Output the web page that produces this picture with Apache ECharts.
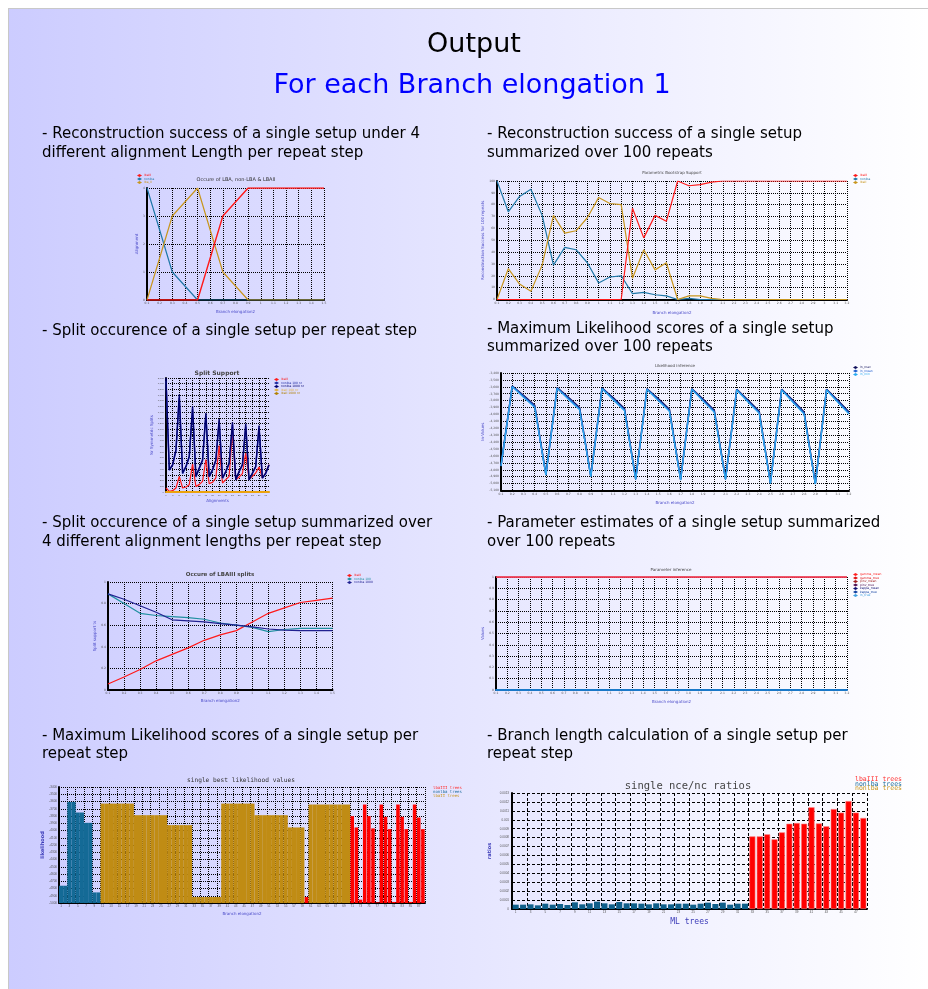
<!DOCTYPE html>
<html>
<head>
<meta charset="utf-8">
<title>Output</title>
<script src="https://cdn.jsdelivr.net/npm/echarts@6/dist/echarts.min.js"></script>
<style>
  html, body { margin: 0; padding: 0; background: #fff; }
  #page { width: 928px; height: 989px; }
</style>
</head>
<body>
<div id="page"></div>
<script>
// ---------- chart 1: Occure of LBA, non-LBA & LBAII ----------
const elong15 = ['0.1','0.2','0.3','0.4','0.5','0.6','0.7','0.8','0.9','1','1.1','1.2','1.3','1.4','1.5'];
const occLba3   = [0,null,0,null,0,null,3,null,4,null,4,null,4,null,4];
const occNonLba = [4,null,1,null,0,null,0,null,0,null,0,null,0,null,0];
const occLba2   = [0,null,3,null,4,null,1,null,0,null,0,null,0,null,0];

// ---------- chart 2: Parametric Bootstrap Support ----------
const elong32 = ['0.1','0.2','0.3','0.4','0.5','0.6','0.7','0.8','0.9','1','1.1','1.2','1.3','1.4','1.5','1.6',
                 '1.7','1.8','1.9','2','2.1','2.2','2.3','2.4','2.5','2.6','2.7','2.8','2.9','3','3.1','3.2'];
const bootLba3   = [0,0,0,0,0,0,0,0,0,0,0,0,77,52,71,66,100,96,97,99,100,100,100,100,100,100,100,100,100,100,100,100];
const bootNonLba = [100,74,87,93,71,29,44,42,31,14,19,20,5,6,4,3,0,1,0,0,0,0,0,0,0,0,0,0,0,0,0,0];
const bootLba2   = [0,26,13,7,29,71,56,58,69,86,81,80,18,42,25,31,0,3,3,1,0,0,0,0,0,0,0,0,0,0,0,0];

// ---------- chart 3: Split Support ----------
const alignLabels = ['1','2','3','4','5','6','7','8','9','10','11','12','13','14','15','16',
                     '17','18','19','20','21','22','23','24','25','26','27','28','29','30','31','32'];
const splitLba3     = [70,12,23,70,275,70,88,129,491,99,129,187,567,146,170,246,813,158,216,275,1064,216,263,322,684,216,275,333,440,246,333,480];
const splitNon100   = [2000,392,480,743,1708,333,450,626,1503,275,421,567,1386,275,392,567,1281,246,363,509,1222,216,363,480,1199,216,333,450,1164,246,333,480];
const splitNon1000  = [1950,380,470,720,1650,320,440,610,1450,265,410,550,1340,265,380,550,1240,240,350,495,1180,210,350,470,1150,210,320,440,1120,240,320,470];
const splitLba2_100  = [0,0,0,0,0,0,0,0,0,0,0,0,0,0,0,0,0,0,0,0,0,0,0,0,0,0,0,0,0,0,0,0];
const splitLba2_1000 = [0,0,0,0,0,0,0,0,0,0,0,0,0,0,0,0,0,0,0,0,0,0,0,0,0,0,0,0,0,0,0,0];

// ---------- chart 4: Likelihood inference ----------
const lnUpper = [-4740,-3590,-3722,-3868,-4870,-3612,-3752,-3902,-4892,-3618,-3760,-3915,-4930,-3628,-3770,-3925,-4940,-3628,-3778,-3940,-4930,-3636,-3790,-3955,-4990,-3636,-3795,-3965,-5000,-3636,-3795,-3965];
const lnMid   = [-4743,-3593,-3738,-3883,-4873,-3617,-3767,-3917,-4897,-3622,-3776,-3931,-4936,-3632,-3786,-3941,-4946,-3632,-3794,-3955,-4936,-3641,-3805,-3970,-4994,-3641,-3810,-3980,-5004,-3641,-3810,-3980];
const lnLower = [-4748,-3598,-3752,-3898,-4878,-3622,-3782,-3932,-4902,-3627,-3790,-3946,-4942,-3637,-3800,-3956,-4952,-3637,-3808,-3970,-4942,-3646,-3820,-3985,-5000,-3646,-3825,-3995,-5010,-3646,-3825,-3995];

// ---------- chart 5: Occure of LBAIII splits ----------
const lba3Split    = [0.055,0.12,0.19,0.27,0.33,0.39,0.46,0.51,0.55,0.63,0.71,0.76,0.81,0.83,0.85];
const nonSplitA    = [0.89,0.80,0.71,0.69,0.68,0.67,0.655,0.62,0.60,0.58,0.54,0.56,0.57,0.57,0.57];
const nonSplitB    = [0.89,0.84,0.78,0.72,0.65,0.64,0.63,0.615,0.60,0.585,0.565,0.555,0.55,0.55,0.55];

// ---------- chart 6: Parameter inference ----------
const parTop1 = [1,1,1,1,1,1,1,1,1,1,1,1,1,1,1,1,1,1,1,1,1,1,1,1,1,1,1,1,1,1,1,1];
const parTop2 = [1,1,1,1,1,1,1,1,1,1,1,1,1,1,1,1,1,1,1,1,1,1,1,1,1,1,1,1,1,1,1,1];
const parLow1 = [0,0,0,0,0,0,0,0,0,0,0,0,0,0,0,0,0,0,0,0,0,0,0,0,0,0,0,0,0,0,0,0];
const parLow2 = [0,0,0,0,0,0,0,0,0,0,0,0,0,0,0,0,0,0,0,0,0,0,0,0,0,0,0,0,0,0,0,0];
const parLow3 = [0,0,0,0,0,0,0,0,0,0,0,0,0,0,0,0,0,0,0,0,0,0,0,0,0,0,0,0,0,0,0,0];
const parLow4 = [0,0,0,0,0,0,0,0,0,0,0,0,0,0,0,0,0,0,0,0,0,0,0,0,0,0,0,0,0,0,0,0];
const parLow5 = [0,0,0,0,0,0,0,0,0,0,0,0,0,0,0,0,0,0,0,0,0,0,0,0,0,0,0,0,0,0,0,0];

// ---------- chart 7: single best likelihood values (one slot per tree) ----------
const treeSlots = ['1','2','3','4','5','6','7','8','9','10','11','12','13','14','15','16','17','18','19','20','21','22',
                   '23','24','25','26','27','28','29','30','31','32','33','34','35','36','37','38','39','40','41','42','43','44',
                   '45','46','47','48','49','50','51','52','53','54','55','56','57','58','59','60','61','62','63','64','65','66',
                   '67','68','69','70','71','72','73','74','75','76','77','78','79','80','81','82','83','84','85','86','87','88'];
const llNonLba = [-4762,-4762,-3606,-3606,-3752,-3752,-3894,-3894,-4854,-4854,
                  null,null,null,null,null,null,null,null,null,null,null,null,null,null,null,null,null,null,null,null,
                  null,null,null,null,null,null,null,null,null,null,null,null,null,null,null,null,null,null,null,null,
                  null,null,null,null,null,null,null,null,null,null,null,null,null,null,null,null,null,null,null,null,
                  null,null,null,null,null,null,null,null,null,null,null,null,null,null,null,null,null,null];
const llLba2   = [null,null,null,null,null,null,null,null,null,null,
                  -3629,-3629,-3629,-3629,-3629,-3629,-3629,-3629,
                  -3789,-3789,-3789,-3789,-3789,-3789,-3789,-3789,
                  -3926,-3926,-3926,-3926,-3926,-3926,
                  -4918,-4918,-4918,-4918,-4918,-4918,-4918,
                  -3629,-3629,-3629,-3629,-3629,-3629,-3629,-3629,
                  -3789,-3789,-3789,-3789,-3789,-3789,-3789,-3789,
                  -3958,-3958,-3958,-3958,
                  null,
                  -3642,-3642,-3642,-3642,-3642,-3642,-3642,-3642,-3642,-3642,
                  null,null,null,null,null,null,null,null,null,null,null,null,null,null,null,null,null,null];
const llLba3   = [null,null,null,null,null,null,null,null,null,null,null,null,null,null,null,null,null,null,null,null,
                  null,null,null,null,null,null,null,null,null,null,null,null,null,null,null,null,null,null,null,null,
                  null,null,null,null,null,null,null,null,null,null,null,null,null,null,null,null,null,null,null,
                  -4918,
                  null,null,null,null,null,null,null,null,null,null,
                  -3802,-3958,-4954,-3642,-3802,-3971,-4991,-3642,-3811,-3981,-4985,-3642,-3811,-3981,-4985,-3642,-3821,-3981];
const llBase = -5000;

// ---------- chart 8: single nce/nc ratios ----------
const mlTrees = ['1','2','3','4','5','6','7','8','9','10','11','12','13','14','15','16','17','18','19','20','21','22','23','24',
                 '25','26','27','28','29','30','31','32','33','34','35','36','37','38','39','40','41','42','43','44','45','46','47','48'];
const ratioNonLba = [0.0000486,0.0000486,0.0000523,0.0000411,0.0000598,0.0000486,0.0000560,0.0000448,0.0000747,0.0000523,0.0000635,0.0000822,
                     0.0000635,0.0000523,0.0000785,0.0000635,0.0000635,0.0000598,0.0000523,0.0000635,0.0000523,0.0000523,0.0000598,0.0000598,
                     0.0000486,0.0000598,0.0000710,0.0000560,0.0000710,0.0000486,0.0000598,0.0000598,
                     null,null,null,null,null,null,null,null,null,null,null,null,null,null,null,null];
const ratioLba3 = [null,null,null,null,null,null,null,null,null,null,null,null,null,null,null,null,
                   null,null,null,null,null,null,null,null,null,null,null,null,null,null,null,null,
                   0.000814,0.000814,0.000837,0.000781,0.000859,0.000956,0.000964,0.000956,0.00114,0.000959,0.000927,0.00112,0.00108,0.00121,0.00108,0.00102];

// ---------- page text ----------
const pageTitle = 'Output';
const pageSubtitle = 'For each Branch elongation 1';

const FONT = "'DejaVu Sans', sans-serif";
const MONO = "'DejaVu Sans Mono', monospace";
const BLACK = '#000';
const DOT = [1, 1];

const grids = [
  { left: 147, top: 188, width: 177, height: 112 },
  { left: 497, top: 181, width: 350, height: 118.5 },
  { left: 166, top: 378, width: 103, height: 114 },
  { left: 501, top: 373, width: 348, height: 117.5 },
  { left: 108, top: 582, width: 224.5, height: 108 },
  { left: 496, top: 577, width: 351, height: 113 },
  { left: 59,  top: 787, width: 366, height: 116 },
  { left: 512, top: 793, width: 355, height: 116 }
];

function catAxis(gridIndex, data, name, nameGap, extra) {
  return Object.assign({
    type: 'category', gridIndex, data, boundaryGap: false,
    name, nameLocation: 'middle', nameGap,
    nameTextStyle: { fontSize: 4, color: '#4a4ac8', fontFamily: FONT },
    axisLine: { show: true, lineStyle: { color: BLACK, width: 2 } },
    axisTick: { show: false },
    axisLabel: { fontSize: 3, color: '#555', margin: 2, interval: 0, fontFamily: FONT },
    splitLine: { show: true, interval: 0, lineStyle: { color: BLACK, type: DOT, width: 1 } }
  }, extra || {});
}

function valAxis(gridIndex, min, max, interval, name, nameGap, extra) {
  return Object.assign({
    type: 'value', gridIndex, min, max, interval,
    name, nameLocation: 'middle', nameGap, nameRotate: 90,
    nameTextStyle: { fontSize: 4, color: '#4a4ac8', fontFamily: FONT },
    axisLine: { show: true, lineStyle: { color: BLACK, width: 2 } },
    axisTick: { show: false },
    axisLabel: { fontSize: 3, color: '#555', margin: 2, fontFamily: FONT },
    splitLine: { show: true, lineStyle: { color: BLACK, type: DOT, width: 1 } }
  }, extra || {});
}

function line(name, idx, data, color, width, z) {
  return {
    type: 'line', name, xAxisIndex: idx, yAxisIndex: idx, data,
    showSymbol: false, symbol: 'none', connectNulls: true,
    lineStyle: { color, width: width || 1.2 }, itemStyle: { color },
    z: z || 2, animation: false, silent: true
  };
}

function legendBox(left, top, items, fontSize, extra) {
  return Object.assign({
    left, top, orient: 'vertical', itemGap: 0.5, itemWidth: 5, itemHeight: 3,
    padding: 0, icon: 'diamond', selectedMode: false,
    textStyle: { fontSize, fontFamily: FONT, padding: [0, 0, 0, -3] },
    data: items.map(function (it) {
      return { name: it[0], itemStyle: { color: it[1] }, textStyle: { color: it[1], fontSize, fontFamily: FONT } };
    })
  }, extra || {});
}

// legend made of coloured names only
function textLegend(left, top, items, fontSize, gap) {
  return {
    left, top, orient: 'vertical', itemGap: gap, itemWidth: 0, itemHeight: 0,
    padding: 0, icon: 'rect', selectedMode: false,
    textStyle: { fontSize, fontFamily: MONO, padding: 0 },
    data: items.map(function (it) {
      return { name: it[0], itemStyle: { color: 'rgba(0,0,0,0)' },
               textStyle: { color: it[1], fontSize, fontFamily: MONO, padding: 0 } };
    })
  };
}

function heading(x, y, text) {
  return { type: 'text', x, y, silent: true,
    style: { text, fill: '#000', font: '15px ' + FONT, textAlign: 'left', align: 'left', textVerticalAlign: 'middle', verticalAlign: 'middle' } };
}
function centerText(x, y, text, font, fill) {
  return { type: 'text', x, y, silent: true,
    style: { text, fill, font, textAlign: 'center', align: 'center', textVerticalAlign: 'middle', verticalAlign: 'middle' } };
}

const RED = '#ff1a1a', BLUE = '#1f78a8', GOLD = '#c8961e';

const chart = echarts.init(document.getElementById('page'), null, { renderer: 'canvas', width: 928, height: 989 });

const option = {
  animation: false,
  backgroundColor: { type: 'linear', x: 8, y: 0, x2: 928, y2: 0, global: true,
    colorStops: [{ offset: 0, color: '#ccccff' }, { offset: 1, color: '#ffffff' }] },
  graphic: [
    { type: 'rect', shape: { x: 0, y: 0, width: 928, height: 8 }, style: { fill: '#fff' }, silent: true },
    { type: 'rect', shape: { x: 0, y: 0, width: 8, height: 989 }, style: { fill: '#fff' }, silent: true },
    { type: 'line', shape: { x1: 8, y1: 8.5, x2: 928, y2: 8.5 }, style: { stroke: '#c8c8c8', lineWidth: 1 }, silent: true },
    { type: 'line', shape: { x1: 8.5, y1: 8, x2: 8.5, y2: 989 }, style: { stroke: '#c8c8c8', lineWidth: 1 }, silent: true },
    centerText(474, 45, pageTitle, '27px ' + FONT, '#000'),
    centerText(472, 86, pageSubtitle, '27px ' + FONT, '#0000ff'),
    heading(42, 134, '- Reconstruction success of a single setup under 4'),
    heading(42, 153, 'different alignment Length per repeat step'),
    heading(487, 134, '- Reconstruction success of a single setup'),
    heading(487, 153, 'summarized over 100 repeats'),
    heading(42, 331, '- Split occurence of a single setup per repeat step'),
    heading(487, 329, '- Maximum Likelihood scores of a single setup'),
    heading(487, 347, 'summarized over 100 repeats'),
    heading(42, 523, '- Split occurence of a single setup summarized over'),
    heading(42, 542, '4 different alignment lengths per repeat step'),
    heading(487, 523, '- Parameter estimates of a single setup summarized'),
    heading(487, 542, 'over 100 repeats'),
    heading(42, 736, '- Maximum Likelihood scores of a single setup per'),
    heading(42, 754, 'repeat step'),
    heading(487, 736, '- Branch length calculation of a single setup per'),
    heading(487, 754, 'repeat step'),
    centerText(236, 180, 'Occure of LBA, non-LBA & LBAII', '5px ' + FONT, '#333'),
    centerText(672, 173, 'Parametric Bootstrap Support', '4px ' + FONT, '#444'),
    centerText(217, 373, 'Split Support', 'bold 6px ' + FONT, '#444'),
    centerText(675, 366, 'Likelihood inference', '4px ' + FONT, '#444'),
    centerText(220, 575, 'Occure of LBAIII splits', 'bold 5.5px ' + FONT, '#444'),
    centerText(671, 570, 'Parameter inference', '4px ' + FONT, '#444'),
    centerText(241, 780, 'single best likelihood values', '6.2px ' + MONO, '#333'),
    centerText(688, 786, 'single nce/nc ratios', '10.5px ' + MONO, '#444')
  ],
  grid: grids.map(function (g) { return Object.assign({ containLabel: false, show: false }, g); }),
  legend: [
    legendBox(137, 174, [['lbaIII', RED], ['nonlba', BLUE], ['lba_II', GOLD]], 3),
    legendBox(853, 174, [['lbaIII ', RED], ['nonlba ', BLUE], ['lbaII', GOLD]], 3),
    legendBox(274, 378, [['lbaIII  ', RED], ['nonlba 100 nr', '#1e2aa0'], ['nonlba 1000 nr', '#00006e'],
                         ['lbaII 100 nr', '#e0b040'], ['lbaII 1000 nr', '#b08000']], 3),
    legendBox(853, 366, [['ln_max', '#10105a'], ['ln_mean', '#1f5fd0'], ['ln_min', '#2aaaf0']], 3),
    legendBox(347, 574, [['lbaIII   ', RED], ['nonlba 100', '#2090a0'], ['nonlba 1000', '#202090']], 3),
    legendBox(853, 573, [['gamma_mean', '#ff2020'], ['gamma_true', '#e01010'], ['pinv_mean', '#a02020'],
                         ['pinv_true', '#501050'], ['kappa_mean', '#101070'], ['kappa_true', '#1040a0'], ['ln_true', '#40a0e0']], 3),
    textLegend(428, 786, [['lbaIII trees', '#ff3030'], ['nonlba trees', '#1a6a9a'], ['lbaII trees', GOLD]], 4, 0),
    textLegend(849, 776, [['lbaIII trees ', '#ff3030'], ['nonlba trees ', '#1a6a9a'], ['nonlba trees  ', GOLD]], 6.5, -2.5)
  ],
  xAxis: [
    catAxis(0, elong15, 'Branch elongation2', 10),
    catAxis(1, elong32, 'Branch elongation2', 11.5),
    catAxis(2, alignLabels, 'Alignments', 7, {
      axisLabel: { fontSize: 2.5, color: '#555', margin: 2, interval: 1 },
      splitLine: { show: true, interval: 1, lineStyle: { color: BLACK, type: DOT, width: 1 } },
      axisLine: { show: true, lineStyle: { color: '#e8a000', width: 2 } }
    }),
    catAxis(3, elong32, 'Branch elongation2', 10),
    catAxis(4, elong15, 'Branch elongation2', 9),
    catAxis(5, elong32, 'Branch elongation2', 10, { axisLine: { show: true, lineStyle: { color: '#1a70c0', width: 2 } } }),
    catAxis(6, treeSlots, 'Branch elongation2', 9, {
      boundaryGap: true,
      axisLabel: { fontSize: 3, color: '#555', margin: 2, interval: 1 },
      splitLine: { show: true, interval: 1, lineStyle: { color: BLACK, type: DOT, width: 1 } }
    }),
    catAxis(7, mlTrees, 'ML trees', 9, {
      boundaryGap: true,
      nameTextStyle: { fontSize: 8, color: '#3a3ab8', fontFamily: MONO },
      axisLabel: { fontSize: 3, color: '#555', margin: 2, interval: 1 },
      splitLine: { show: true, interval: 1, lineStyle: { color: BLACK, type: [3, 2], width: 1 } }
    }),
    // separate slot axis so the lbaIII bars keep their own width
    { type: 'category', gridIndex: 6, data: treeSlots, boundaryGap: true, show: false }
  ],
  yAxis: [
    valAxis(0, 0, 4, 1, 'Alignment', 5),
    valAxis(1, 0, 100, 10, 'Reconstruction Success for 100 repeats', 7),
    valAxis(2, 0, 2000, 100, 'Nr Symmetric Splits', 6, { axisLabel: { fontSize: 2.5, color: '#555', margin: 2 } }),
    valAxis(3, -5100, -3400, 100, 'ln-Values', 12),
    valAxis(4, 0, 1, 0.2, 'Split support %', 8),
    valAxis(5, 0, 1, 0.1, 'Values', 7),
    valAxis(6, 0, 1600, 100, 'likelihood', 11, {
      nameTextStyle: { fontSize: 5, color: '#3a3ab8', fontWeight: 'bold', fontFamily: FONT },
      axisLabel: { fontSize: 3, color: '#555', margin: 2, formatter: function (v) { return String(v + llBase); } }
    }),
    valAxis(7, 0, 0.0013, 0.0001, 'ratios', 20, {
      nameTextStyle: { fontSize: 5, color: '#3a3ab8', fontWeight: 'bold', fontFamily: FONT },
      axisLabel: { fontSize: 3, color: '#555', margin: 3 },
      splitLine: { show: true, lineStyle: { color: BLACK, type: [3, 2], width: 1 } }
    })
  ],
  series: [
    // chart 1
    line('nonlba', 0, occNonLba, BLUE, 1.2),
    line('lba_II', 0, occLba2, GOLD, 1.2),
    line('lbaIII', 0, occLba3, RED, 1.4, 3),
    // chart 2
    line('nonlba ', 1, bootNonLba, BLUE, 1.2),
    line('lbaII', 1, bootLba2, GOLD, 1.2),
    line('lbaIII ', 1, bootLba3, RED, 1.2, 3),
    // chart 3
    line('lbaIII  ', 2, splitLba3, RED, 1.2),
    line('nonlba 1000 nr', 2, splitNon1000, '#2a3ab0', 1.4),
    line('nonlba 100 nr', 2, splitNon100, '#00006e', 1.4),
    line('lbaII 100 nr', 2, splitLba2_100, '#e0b040', 1.5),
    line('lbaII 1000 nr', 2, splitLba2_1000, '#f0a000', 1.5),
    // chart 4
    line('ln_max', 3, lnUpper, '#10105a', 1.6),
    line('ln_mean', 3, lnMid, '#1f5fd0', 1.4),
    line('ln_min', 3, lnLower, '#2aaaf0', 1.2),
    // chart 5
    line('lbaIII   ', 4, lba3Split, RED, 1.2),
    line('nonlba 100', 4, nonSplitA, '#2090a0', 1.2),
    line('nonlba 1000', 4, nonSplitB, '#202090', 1.2),
    // chart 6
    line('kappa_mean', 5, parLow1, '#101070', 1.5),
    line('kappa_true', 5, parLow2, '#1040a0', 1.5),
    line('pinv_true', 5, parLow3, '#501050', 1.5),
    line('ln_true', 5, parLow4, '#1a78c8', 1.8),
    line('pinv_mean', 5, parLow5, '#1a78c8', 1.8),
    line('gamma_true', 5, parTop2, '#e01010', 1.5),
    line('gamma_mean', 5, parTop1, '#f04060', 1.5),
    // chart 7
    { type: 'bar', name: 'nonlba trees', xAxisIndex: 6, yAxisIndex: 6, stack: 'll',
      data: llNonLba.map(function (v) { return v == null ? null : v - llBase; }),
      barCategoryGap: 0, itemStyle: { color: '#146a96' }, silent: true },
    { type: 'bar', name: 'lbaII trees', xAxisIndex: 6, yAxisIndex: 6, stack: 'll',
      data: llLba2.map(function (v) { return v == null ? null : v - llBase; }),
      barCategoryGap: 0, itemStyle: { color: '#c08c14' }, silent: true },
    { type: 'bar', name: 'lbaIII trees', xAxisIndex: 8, yAxisIndex: 6,
      data: llLba3.map(function (v) { return v == null ? null : v - llBase; }),
      barCategoryGap: '15%', itemStyle: { color: '#ff0000' }, silent: true },
    // chart 8
    { type: 'bar', name: 'nonlba trees ', xAxisIndex: 7, yAxisIndex: 7, stack: 'r', data: ratioNonLba,
      barCategoryGap: '18%', itemStyle: { color: '#0f5f8a' }, silent: true },
    { type: 'bar', name: 'lbaIII trees ', xAxisIndex: 7, yAxisIndex: 7, stack: 'r', data: ratioLba3,
      barCategoryGap: '18%', itemStyle: { color: '#ff0000', borderColor: '#ff8080', borderWidth: 0.6 }, silent: true },
    { type: 'bar', name: 'nonlba trees  ', xAxisIndex: 7, yAxisIndex: 7, stack: 'r', data: [],
      itemStyle: { color: GOLD }, silent: true }
  ]
};

chart.setOption(option);
</script>
</body>
</html>
